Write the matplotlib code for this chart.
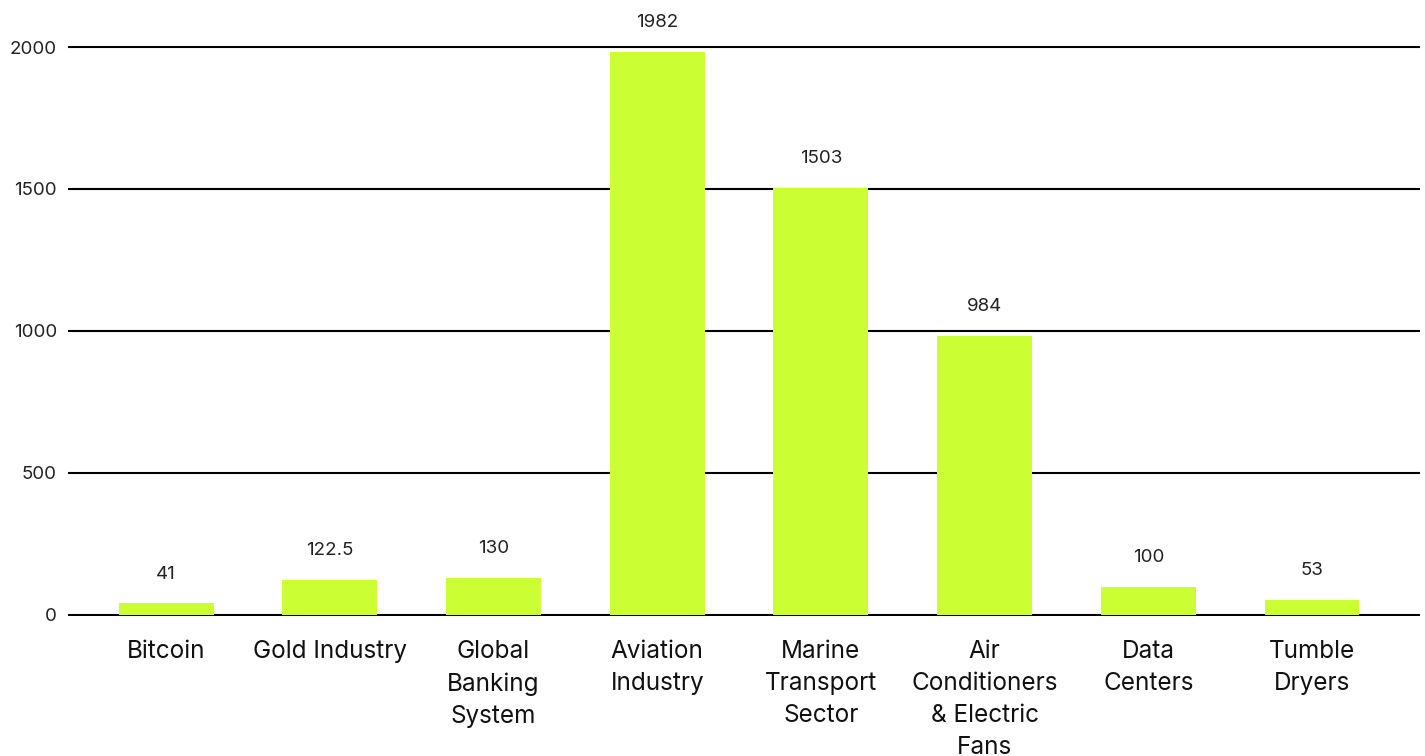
import matplotlib
matplotlib.use("Agg")
import matplotlib.pyplot as plt

### chart data
categories = ["Bitcoin", "Gold Industry", "Global\nBanking\nSystem", "Aviation\nIndustry",
              "Marine\nTransport\nSector", "Air\nConditioners\n& Electric\nFans",
              "Data\nCenters", "Tumble\nDryers"]
values = [41, 122.5, 130, 1982, 1503, 984, 100, 53]
value_labels = ["41", "122.5", "130", "1982", "1503", "984", "100", "53"]
yticks = [0, 500, 1000, 1500, 2000]

plt.rcParams['font.family'] = ['Inter', 'DejaVu Sans']

fig = plt.figure(figsize=(14.25, 7.56), dpi=100)
ax = fig.add_axes([0.0477, 0.1847, 0.9488, 0.755])

x = range(len(categories))
ax.bar(x, values, width=0.58, color='#CCFF33', zorder=1)

### value labels above bars
for xi, v, lab in zip(x, values, value_labels):
    ax.annotate(lab, (xi, v), xytext=(0, 21), textcoords='offset points',
                ha='center', va='center', fontsize=13.5, color='#222222')

ax.set_ylim(-5, 2005)
ax.set_xlim(-0.6, 7.66)
ax.set_yticks(yticks)
ax.set_yticklabels([str(t) for t in yticks], fontsize=13.5, color='#222222')
ax.set_xticks(list(x))
ax.set_xticklabels(categories, fontsize=17.5, color='#111111', linespacing=1.5, va='top')
ax.tick_params(axis='both', length=0)
ax.tick_params(axis='y', pad=8)
ax.tick_params(axis='x', pad=17)
ax.yaxis.grid(True, color='black', linewidth=1.5, zorder=0)
ax.set_axisbelow(True)
for s in ax.spines.values():
    s.set_visible(False)

fig.savefig("out.png", dpi=100, facecolor='white')
